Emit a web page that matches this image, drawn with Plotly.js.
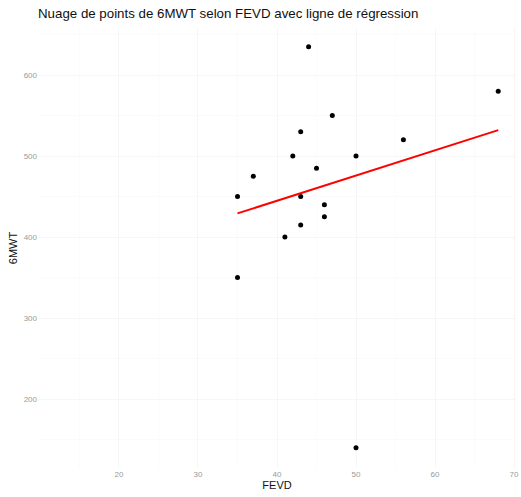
<!DOCTYPE html>
<html>
<head>
<meta charset="utf-8">
<script src="https://cdn.plot.ly/plotly-3.0.1.min.js"></script>
<style>
  html, body { margin: 0; padding: 0; background: #ffffff; }
  #chart { width: 521px; height: 497px; }
</style>
</head>
<body>
<div id="chart"></div>
<script>
// FEVD (%) and six-minute walk test distance (m) per patient
const fevd = [44, 68, 47, 43, 42, 50, 56, 45, 37, 35, 43, 46, 46, 43, 41, 35, 50];
const walk6 = [635, 580, 550, 530, 500, 500, 520, 485, 475, 450, 450, 440, 425, 415, 400, 350, 140];

const xTicks = [20, 30, 40, 50, 60, 70];
const yTicks = [200, 300, 400, 500, 600];

// Ordinary least squares fit of 6MWT on FEVD
function leastSquares(xs, ys) {
  const n = xs.length;
  const mx = xs.reduce((a, b) => a + b, 0) / n;
  const my = ys.reduce((a, b) => a + b, 0) / n;
  let sxy = 0, sxx = 0;
  for (let i = 0; i < n; i++) {
    sxy += (xs[i] - mx) * (ys[i] - my);
    sxx += (xs[i] - mx) * (xs[i] - mx);
  }
  const slope = sxy / sxx;
  return { slope: slope, intercept: my - slope * mx };
}

const fit = leastSquares(fevd, walk6);
const xMin = Math.min(...fevd);
const xMax = Math.max(...fevd);
const fitX = [xMin, xMax];
const fitY = fitX.map(v => fit.intercept + fit.slope * v);

const points = {
  x: fevd,
  y: walk6,
  type: 'scatter',
  mode: 'markers',
  marker: { color: '#000000', size: 5 },
  hoverinfo: 'x+y',
  showlegend: false
};

const regression = {
  x: fitX,
  y: fitY,
  type: 'scatter',
  mode: 'lines',
  line: { color: '#ff0000', width: 2 },
  hoverinfo: 'skip',
  showlegend: false
};

const layout = {
  width: 521,
  height: 497,
  paper_bgcolor: '#ffffff',
  plot_bgcolor: '#ffffff',
  margin: { l: 38, r: 5, t: 28, b: 29 },
  font: { family: 'Liberation Sans, Arial, sans-serif', color: '#000000' },
  title: {
    text: 'Nuage de points de 6MWT selon FEVD avec ligne de régression',
    font: { size: 13.3, color: '#111111' },
    x: 0, xref: 'paper', xanchor: 'left',
    y: 1, yref: 'container', yanchor: 'top', pad: { t: 9 }
  },
  xaxis: {
    range: [9.75, 70.25],
    tickvals: xTicks,
    ticktext: xTicks.map(String),
    tickfont: { size: 8, color: '#9a9a9a' },
    ticks: '',
    ticklen: 0,
    showline: false,
    zeroline: false,
    showgrid: true,
    gridcolor: '#f6f6f6',
    gridwidth: 1,
    minor: { tickvals: [15, 25, 35, 45, 55, 65], showgrid: true, gridcolor: '#fbfbfb', gridwidth: 1 },
    title: { text: 'FEVD', font: { size: 11, color: '#111111' }, standoff: 3 },
    fixedrange: true
  },
  yaxis: {
    range: [115, 658],
    tickvals: yTicks,
    ticktext: yTicks.map(String),
    tickfont: { size: 8, color: '#9a9a9a' },
    ticks: '',
    ticklen: 0,
    showline: false,
    zeroline: false,
    showgrid: true,
    gridcolor: '#f6f6f6',
    gridwidth: 1,
    minor: { tickvals: [150, 250, 350, 450, 550, 650], showgrid: true, gridcolor: '#fbfbfb', gridwidth: 1 },
    title: { text: '6MWT', font: { size: 11, color: '#111111' }, standoff: 3 },
    fixedrange: true
  }
};

Plotly.newPlot('chart', [points, regression], layout, { displayModeBar: false, staticPlot: true });
</script>
</body>
</html>
